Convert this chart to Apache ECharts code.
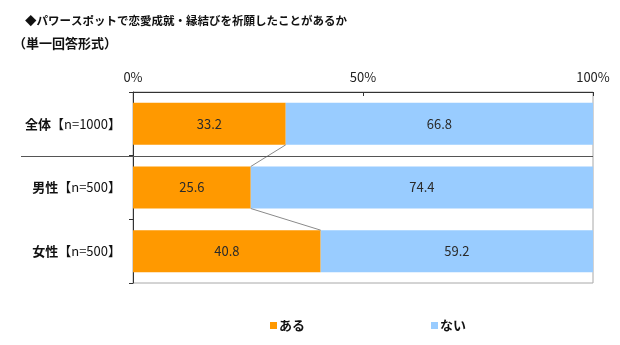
<!DOCTYPE html>
<html>
<head>
<meta charset="utf-8">
<script src="https://cdn.jsdelivr.net/npm/echarts@6/dist/echarts.min.js"></script>
<style>
  html, body { margin: 0; padding: 0; background: #fff; }
  #chart { width: 620px; height: 345px; }
</style>
</head>
<body>
<div id="chart"></div>
<script>
// Respondent groups and sample sizes
const groups = ['全体', '男性', '女性'];
const sampleSizes = ['n=1000', 'n=500', 'n=500'];
// Share of answers (%)
const yesValues = [33.2, 25.6, 40.8];
const noValues = [66.8, 74.4, 59.2];
const seriesNames = ['ある', 'ない'];
const titleText = '◆パワースポットで恋愛成就・縁結びを祈願したことがあるか';
const subtitleText = '（単一回答形式）';

const FONT = '"Noto Sans CJK JP", "Noto Sans", sans-serif';
const ORANGE = '#FF9900';
const BLUE = '#99CCFF';
const BAR_RATIO = 0.66;

const chart = echarts.init(document.getElementById('chart'), null, { renderer: 'canvas' });

// Thin connector lines between the end of each "ある" segment and the next group's
function connectorItem(params, api) {
  const i = params.dataIndex;
  if (i >= groups.length - 1) return null;
  const band = api.size([0, 1])[1];
  const half = band * BAR_RATIO / 2;
  const p0 = api.coord([yesValues[i], i]);
  const p1 = api.coord([yesValues[i + 1], i + 1]);
  return {
    type: 'line',
    shape: { x1: p0[0], y1: p0[1] + half, x2: p1[0], y2: p1[1] - half },
    style: { stroke: '#8a8a8a', lineWidth: 1 },
    silent: true
  };
}

// Divider separating the total row from the gender breakdown
function dividerItem(params, api) {
  const band = api.size([0, 1])[1];
  const p = api.coord([100, 0]);
  const y = Math.round(p[1] + band / 2) + 0.5;
  return {
    type: 'line',
    shape: { x1: 21, y1: y, x2: p[0], y2: y },
    style: { stroke: '#555', lineWidth: 1 },
    silent: true
  };
}

chart.setOption({
  animation: false,
  textStyle: { fontFamily: FONT },
  title: [
    { text: titleText, left: 20, top: 10,
      textStyle: { fontSize: 11.5, fontWeight: 'bold', color: '#111', fontFamily: FONT } },
    { text: subtitleText, left: 8, top: 32,
      textStyle: { fontSize: 13, fontWeight: 'bold', color: '#111', fontFamily: FONT } }
  ],
  legend: {
    data: seriesNames,
    left: 265, top: 314,
    icon: 'rect', itemWidth: 7, itemHeight: 7, itemGap: 126,
    textStyle: { fontSize: 13, fontWeight: 'bold', color: '#111', fontFamily: FONT, padding: [0, 0, 0, -3] }
  },
  grid: {
    left: 133, right: 27, top: 92, bottom: 62,
    show: true, borderColor: '#a8a8a8', borderWidth: 1
  },
  xAxis: {
    type: 'value', position: 'top', min: 0, max: 100, interval: 50,
    axisLine: { show: true, lineStyle: { color: '#333', width: 1 } },
    axisTick: { show: true, inside: true, length: 4, lineStyle: { color: '#333' } },
    splitLine: { show: false },
    axisLabel: { formatter: '{value}%', fontSize: 13, color: '#222', margin: 8, fontFamily: FONT }
  },
  yAxis: {
    type: 'category', data: groups, inverse: true,
    axisLine: { show: true, lineStyle: { color: '#333', width: 1 } },
    axisTick: { show: true, length: 4, lineStyle: { color: '#333' } },
    axisLabel: {
      margin: 12,
      formatter: (v, i) => '{a|' + v + '}{b|【' + sampleSizes[i] + '】}',
      rich: {
        a: { fontSize: 13, fontWeight: 'bold', color: '#111', fontFamily: FONT },
        b: { fontSize: 13, color: '#111', fontFamily: FONT }
      }
    }
  },
  series: [
    {
      name: seriesNames[0], type: 'bar', stack: 'all', data: yesValues,
      barWidth: (BAR_RATIO * 100) + '%',
      itemStyle: { color: ORANGE },
      label: { show: true, position: 'inside', color: '#2a2a2a', fontSize: 13, fontFamily: FONT,
               formatter: p => p.value.toFixed(1) }
    },
    {
      name: seriesNames[1], type: 'bar', stack: 'all', data: noValues,
      barWidth: (BAR_RATIO * 100) + '%',
      itemStyle: { color: BLUE },
      label: { show: true, position: 'inside', color: '#2a2a2a', fontSize: 13, fontFamily: FONT,
               formatter: p => p.value.toFixed(1) }
    },
    {
      type: 'custom', name: 'connector', renderItem: connectorItem,
      data: yesValues.map((v, i) => [v, i]), z: 5, silent: true
    },
    {
      type: 'custom', name: 'divider', renderItem: dividerItem,
      data: [[100, 0]], z: 6, silent: true, clip: false
    }
  ]
});
</script>
</body>
</html>
